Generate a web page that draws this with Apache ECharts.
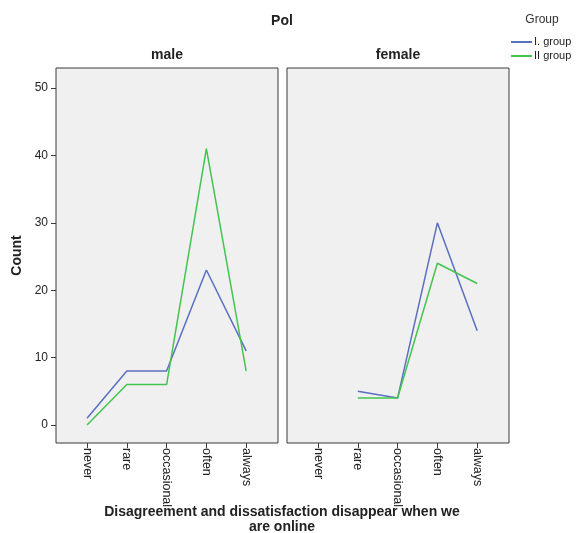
<!DOCTYPE html>
<html><head><meta charset="utf-8">
<script src="https://cdn.jsdelivr.net/npm/echarts@6/dist/echarts.min.js"></script>
<style>html,body{margin:0;padding:0;background:#fff}#c{width:576px;height:533px}</style>
</head><body><div id="c"></div>
<script>
const categories = ['never', 'rare', 'occasional', 'often', 'always'];
const panels = ['male', 'female'];
const groups = ['I. group', 'II group'];
const maleGroupI = [1, 8, 8, 23, 11];
const maleGroupII = [0, 6, 6, 41, 8];
const femaleGroupI = [null, 5, 4, 30, 14];
const femaleGroupII = [null, 4, 4, 24, 21];
const yTicks = [0, 10, 20, 30, 40, 50];

const FONT = '"Liberation Sans", Arial, sans-serif';
const colors = ['#5a6fc0', '#44c44e'];
const toPairs = arr => categories.map((c, i) => [i, arr[i]]);
const catIdx = categories.map((c, i) => i);

const gridCommon = { top: 68, height: 375, show: true, backgroundColor: '#f0f0f0', borderColor: '#3a3a3a', borderWidth: 1 };
const xCommon = {
  type: 'value', min: -0.78, max: 4.8,
  axisLine: { show: false, onZero: false }, splitLine: { show: false },
  axisTick: { show: true, customValues: catIdx, length: 5, lineStyle: { color: '#3a3a3a' } },
  axisLabel: { show: true, customValues: catIdx, rotate: -90, margin: 5, fontSize: 12.5, color: '#222', fontFamily: FONT,
    formatter: v => categories[Math.round(v)] }
};
const yCommon = {
  type: 'value', min: -2.67, max: 52.97,
  axisLine: { show: false, onZero: false }, splitLine: { show: false }
};
const titleStyle = { fontSize: 14, fontWeight: 'bold', color: '#222', fontFamily: FONT };

const option = {
  animation: false,
  color: colors,
  title: [
    { text: 'Pol', left: 282, top: 14, padding: 0, textAlign: 'center', textStyle: titleStyle },
    { text: panels[0], left: 167, top: 48, padding: 0, textAlign: 'center', textStyle: titleStyle },
    { text: panels[1], left: 398, top: 48, padding: 0, textAlign: 'center', textStyle: titleStyle },
    { text: 'Group', left: 542, top: 14, padding: 0, textAlign: 'center', textStyle: { fontSize: 12, fontWeight: 'normal', color: '#333', fontFamily: FONT } },
    { text: 'Disagreement and dissatisfaction disappear when we\nare online', left: 282, top: 505, padding: 0, textAlign: 'center',
      textStyle: Object.assign({ lineHeight: 15 }, titleStyle) }
  ],
  legend: {
    orient: 'vertical', left: 511, top: 36, padding: 0, itemWidth: 21, itemHeight: 2, itemGap: 2, icon: 'rect',
    textStyle: { fontSize: 11, color: '#222', fontFamily: FONT, lineHeight: 12, padding: [0, 0, 0, -3] },
    data: groups
  },
  grid: [
    Object.assign({ left: 56, width: 222 }, gridCommon),
    Object.assign({ left: 287, width: 222 }, gridCommon)
  ],
  xAxis: [
    Object.assign({ gridIndex: 0 }, xCommon),
    Object.assign({ gridIndex: 1 }, xCommon)
  ],
  yAxis: [
    Object.assign({ gridIndex: 0,
      axisTick: { show: true, customValues: yTicks, length: 5, lineStyle: { color: '#3a3a3a' } },
      axisLabel: { show: true, customValues: yTicks, margin: 8, fontSize: 12, color: '#222', fontFamily: FONT },
      name: 'Count', nameLocation: 'middle', nameRotate: 90, nameGap: 32,
      nameTextStyle: titleStyle
    }, yCommon),
    Object.assign({ gridIndex: 1, axisTick: { show: false }, axisLabel: { show: false } }, yCommon)
  ],
  series: [
    { name: groups[0], type: 'line', xAxisIndex: 0, yAxisIndex: 0, data: toPairs(maleGroupI), showSymbol: false, lineStyle: { width: 1.5 } },
    { name: groups[1], type: 'line', xAxisIndex: 0, yAxisIndex: 0, data: toPairs(maleGroupII), showSymbol: false, lineStyle: { width: 1.5 } },
    { name: groups[0], type: 'line', xAxisIndex: 1, yAxisIndex: 1, data: toPairs(femaleGroupI), showSymbol: false, lineStyle: { width: 1.5 } },
    { name: groups[1], type: 'line', xAxisIndex: 1, yAxisIndex: 1, data: toPairs(femaleGroupII), showSymbol: false, lineStyle: { width: 1.5 } }
  ]
};
echarts.init(document.getElementById('c'), null, { renderer: 'canvas' }).setOption(option);
</script>
</body></html>
